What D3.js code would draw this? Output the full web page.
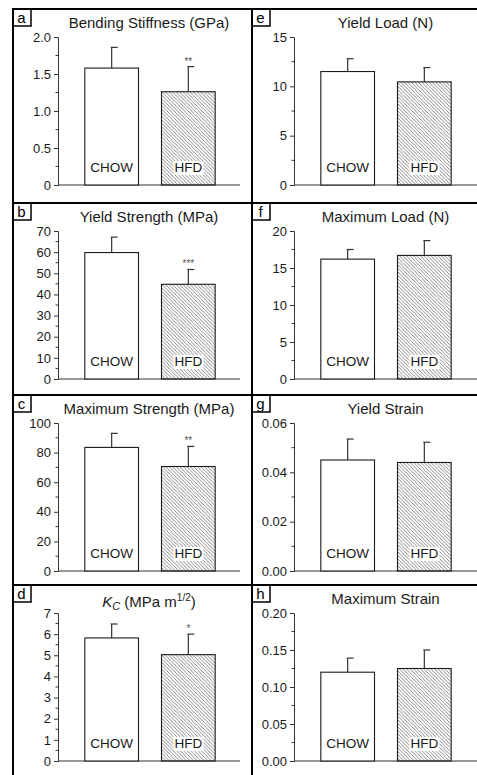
<!DOCTYPE html>
<html>
<head>
<meta charset="utf-8">
<script src="https://cdn.jsdelivr.net/npm/d3@7"></script>
<style>
  body { margin: 0; background: #fff; }
  svg { display: block; font-family: "Liberation Sans", Arial, sans-serif; }
</style>
</head>
<body>
<svg id="chart" width="477" height="775"></svg>
<script>
// bone mechanics, CHOW vs HFD, panels a-h

const groups = ["CHOW", "HFD"];
const panel_ids = ["a", "b", "c", "d", "e", "f", "g", "h"];
const titles = ["Bending Stiffness (GPa)", "Yield Strength (MPa)", "Maximum Strength (MPa)", "KC",
                "Yield Load (N)", "Maximum Load (N)", "Yield Strain", "Maximum Strain"];

const chow_means = [1.58, 59.8, 83.5, 5.82, 11.5, 16.2, 0.045, 0.120];
const chow_errs  = [0.28, 7.3, 9.5, 0.66, 1.3, 1.3, 0.0085, 0.019];
const hfd_means  = [1.26, 44.8, 70.6, 5.03, 10.45, 16.7, 0.044, 0.125];
const hfd_errs   = [0.34, 7.0, 13.6, 0.97, 1.45, 2.0, 0.0082, 0.025];
const stars      = ["**", "***", "**", "*", "", "", "", ""];

const y_tick_labels = [
  ["0", "0.5", "1.0", "1.5", "2.0"],
  ["0", "10", "20", "30", "40", "50", "60", "70"],
  ["0", "20", "40", "60", "80", "100"],
  ["0", "1", "2", "3", "4", "5", "6", "7"],
  ["0", "5", "10", "15"],
  ["0", "5", "10", "15", "20"],
  ["0.00", "0.02", "0.04", "0.06"],
  ["0.00", "0.05", "0.10", "0.15", "0.20"]
];

const svg = d3.select("#chart");
const col_x = [13, 252];
const row_y = [9, 203, 395, 585];
const ink = "#1a1a1a";

// hatch for the HFD bars
const defs = svg.append("defs");
defs.append("pattern")
    .attr("id", "hatch")
    .attr("patternUnits", "userSpaceOnUse")
    .attr("width", 3.5)
    .attr("height", 3.5)
  .append("path")
    .attr("d", "M-1,-1 L4.5,4.5 M-1,2.5 L1,4.5 M2.5,-1 L4.5,1")
    .style("stroke", "#555")
    .style("stroke-width", 0.7);

const draw_panel = function(i){
  const col = i < 4 ? 0 : 1;
  const row = i % 4;
  const px = col_x[col];
  const py = row_y[row];
  const axis_x = px + (col === 0 ? 45 : 42);
  const x_end = col === 0 ? 240 : 477;

  const ticks = y_tick_labels[i].map(Number);
  const y_max = ticks[ticks.length - 1];
  const major = ticks[1] - ticks[0];

  const y_scale = d3.scaleLinear()
      .domain([0, y_max])
      .range([py + 176, py + 28]);

  const x_scale = d3.scaleBand()
      .domain(groups)
      .range([axis_x, axis_x + 184])
      .paddingInner(0.3)
      .paddingOuter(0.35);

  const g = svg.append("g").attr("class", "panel");

  // minor ticks, one between each major
  const minor = d3.range(0, ticks.length - 1).map((k) => ticks[k] + major / 2);

  const y_axis = g.append("g")
      .attr("transform", `translate(${axis_x}, 0)`)
      .call(d3.axisLeft(y_scale)
        .tickValues(ticks)
        .tickFormat((d, k) => y_tick_labels[i][k])
        .tickSize(4)
        .tickPadding(3));
  y_axis.select(".domain").style("stroke", "#333");
  y_axis.selectAll(".tick line").style("stroke", "#333");
  y_axis.selectAll("text")
      .style("font-size", "13px")
      .style("font-family", "Liberation Sans, Arial, sans-serif")
      .style("fill", ink);

  g.selectAll(".minor")
    .data(minor)
    .enter()
    .append("line")
      .attr("class", "minor")
      .attr("x1", axis_x - 2.5)
      .attr("x2", axis_x)
      .attr("y1", (d) => y_scale(d))
      .attr("y2", (d) => y_scale(d))
      .style("stroke", "#333");

  // baseline
  g.append("line")
      .attr("x1", axis_x)
      .attr("x2", x_end)
      .attr("y1", y_scale(0))
      .attr("y2", y_scale(0))
      .style("stroke", "#333");

  const rows = groups.map((name, k) => ({
    name: name,
    mean: k === 0 ? chow_means[i] : hfd_means[i],
    err: k === 0 ? chow_errs[i] : hfd_errs[i],
    star: k === 0 ? "" : stars[i]
  }));

  // error bars (cap drawn to the right, as in the figure)
  rows.forEach((d) => {
    const cx = x_scale(d.name) + x_scale.bandwidth() / 2;
    g.append("line")
        .attr("x1", cx).attr("x2", cx)
        .attr("y1", y_scale(d.mean))
        .attr("y2", y_scale(d.mean + d.err))
        .style("stroke", "#333")
        .style("stroke-width", 1.2);
    g.append("line")
        .attr("x1", cx - 1).attr("x2", cx + 6)
        .attr("y1", y_scale(d.mean + d.err))
        .attr("y2", y_scale(d.mean + d.err))
        .style("stroke", "#333")
        .style("stroke-width", 1.2);
    if(d.star){
      g.append("text")
          .attr("x", cx)
          .attr("y", y_scale(d.mean + d.err) - 2)
          .attr("text-anchor", "middle")
          .style("font-size", "10px")
          .style("fill", "#555")
          .text(d.star);
    }
  });

  g.selectAll(".bar")
    .data(rows)
    .enter()
    .append("rect")
      .attr("class", "bar")
      .attr("x", (d) => x_scale(d.name))
      .attr("y", (d) => y_scale(d.mean))
      .attr("width", x_scale.bandwidth())
      .attr("height", (d) => y_scale(0) - y_scale(d.mean))
      .style("fill", (d, k) => k === 0 ? "#fff" : "url(#hatch)")
      .style("stroke", ink)
      .style("stroke-width", 1.1);

  // group names inside the bars
  rows.forEach((d, k) => {
    const cx = x_scale(d.name) + x_scale.bandwidth() / 2;
    const label = g.append("text")
        .attr("x", cx)
        .attr("y", y_scale(0) - 13)
        .attr("text-anchor", "middle")
        .style("font-size", "13.5px")
        .style("fill", ink)
        .text(d.name);
    if(k === 1){
      const bb = label.node().getBBox();
      g.insert("rect", () => label.node())
          .attr("x", bb.x - 1)
          .attr("y", bb.y + 1)
          .attr("width", bb.width + 2)
          .attr("height", bb.height - 1)
          .style("fill", "#fff");
    }
  });

  // title
  const title = g.append("text")
      .attr("x", (axis_x + x_end) / 2)
      .attr("y", py + (titles[i] === "KC" ? 22 : 19))
      .attr("text-anchor", "middle")
      .style("font-size", "15px")
      .style("fill", ink);
  if(titles[i] === "KC"){
    title.append("tspan").style("font-style", "italic").text("K");
    title.append("tspan").attr("dy", 3).style("font-style", "italic").style("font-size", "11px").text("C");
    title.append("tspan").attr("dy", -3).text(" (MPa m");
    title.append("tspan").attr("dy", -6).style("font-size", "10px").text("1/2");
    title.append("tspan").attr("dy", 6).text(")");
  }else{
    title.text(titles[i]);
  }

  // panel letter box
  g.append("rect")
      .attr("x", px)
      .attr("y", py)
      .attr("width", 18)
      .attr("height", 17)
      .style("fill", "#fff")
      .style("stroke", "#000")
      .style("stroke-width", 1.5);
  g.append("text")
      .attr("x", px + 8.5)
      .attr("y", py + 13.5)
      .attr("text-anchor", "middle")
      .style("font-size", "15px")
      .style("fill", "#000")
      .text(panel_ids[i]);
};

panel_ids.forEach((id, i) => draw_panel(i));

// frame lines between the panels
const frame = svg.append("g")
    .style("stroke", "#000")
    .style("stroke-width", 2);
row_y.forEach((y) => {
  frame.append("line").attr("x1", 12).attr("x2", 477).attr("y1", y).attr("y2", y);
});
col_x.forEach((x) => {
  frame.append("line").attr("x1", x).attr("x2", x).attr("y1", 8).attr("y2", 775);
});
</script>
</body>
</html>
